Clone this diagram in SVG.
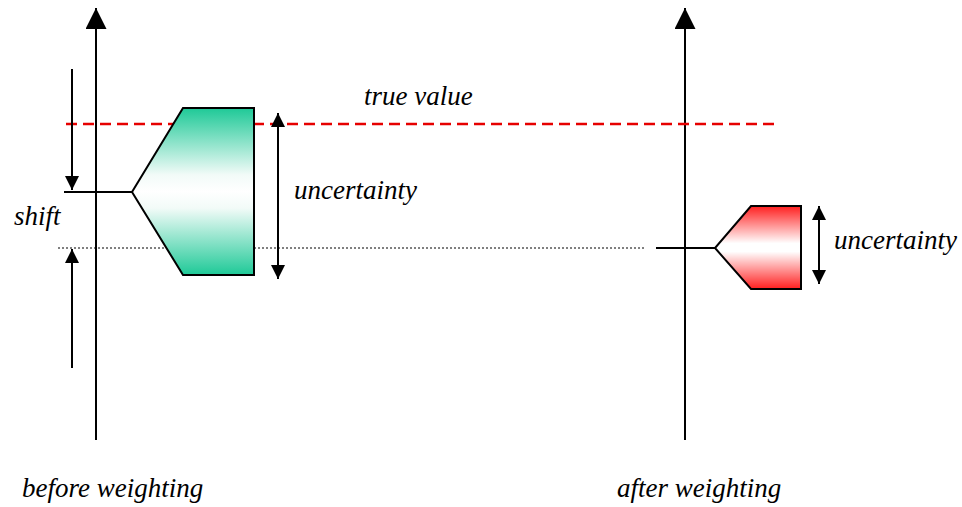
<svg xmlns="http://www.w3.org/2000/svg" width="962" height="507" viewBox="0 0 962 507">
<defs>
<linearGradient id="gGreen" x1="0" y1="0" x2="0" y2="1">
<stop offset="0" stop-color="#1ec997"/>
<stop offset="0.4" stop-color="#f2fbf8"/>
<stop offset="0.5" stop-color="#ffffff"/>
<stop offset="0.6" stop-color="#f2fbf8"/>
<stop offset="1" stop-color="#1ec997"/>
</linearGradient>
<linearGradient id="gRed" x1="0" y1="0" x2="0" y2="1">
<stop offset="0" stop-color="#ff1f1f"/>
<stop offset="0.45" stop-color="#ffffff"/>
<stop offset="0.55" stop-color="#ffffff"/>
<stop offset="1" stop-color="#ff1f1f"/>
</linearGradient>
<marker id="ahBig" viewBox="0 0 10 10" refX="10" refY="5" markerWidth="21" markerHeight="21" markerUnits="userSpaceOnUse" orient="auto">
<path d="M0,0 L10,5 L0,10 z" fill="#000"/>
</marker>
<marker id="ahMed" viewBox="0 0 10 10" refX="10" refY="5" markerWidth="14" markerHeight="14" markerUnits="userSpaceOnUse" orient="auto-start-reverse">
<path d="M0,0 L10,5 L0,10 z" fill="#000"/>
</marker>
</defs>
<style>
.ln{stroke:#000;stroke-width:2;fill:none}
.t{font-style:italic;font-size:27px;fill:#000}
.shape{stroke:#000;stroke-width:2}
</style>
<g id="connectors">
<line id="axis-left" class="ln" x1="96" y1="440" x2="96" y2="8" marker-end="url(#ahBig)"/>
<line id="axis-right" class="ln" x1="685" y1="440" x2="685" y2="8" marker-end="url(#ahBig)"/>
<line id="true-line" x1="66" y1="124" x2="780" y2="124" stroke="#e60000" stroke-width="2.5" stroke-dasharray="11,6"/>
<line id="dotted" x1="58" y1="248" x2="645" y2="248" stroke="#000" stroke-width="1" stroke-dasharray="2,2"/>
<line id="shift-down" class="ln" x1="72" y1="69" x2="72" y2="190" marker-end="url(#ahMed)"/>
<line id="shift-up" class="ln" x1="72" y1="368" x2="72" y2="249" marker-end="url(#ahMed)"/>
<line id="unc-left" class="ln" x1="278" y1="113" x2="278" y2="279" marker-start="url(#ahMed)" marker-end="url(#ahMed)"/>
<line id="unc-right" class="ln" x1="819" y1="206" x2="819" y2="284" marker-start="url(#ahMed)" marker-end="url(#ahMed)"/>
<line class="ln" x1="64" y1="192" x2="132" y2="192"/>
<line class="ln" x1="656" y1="248" x2="715" y2="248"/>
</g>
<g id="node-green">
<path class="shape" d="M183,108 L254,108 L254,275 L183,275 L132,192 Z" fill="url(#gGreen)"/>
</g>
<g id="node-red">
<path class="shape" d="M751,206 L801,206 L801,289 L751,289 L715,248 Z" fill="url(#gRed)"/>
</g>
<g id="labels" font-family="Liberation Serif">
<text class="t" x="364" y="105">true value</text>
<text class="t" x="294" y="199">uncertainty</text>
<text class="t" x="14" y="225">shift</text>
<text class="t" x="834" y="249">uncertainty</text>
<text class="t" x="22" y="497">before weighting</text>
<text class="t" x="617" y="497">after weighting</text>
</g>
</svg>
